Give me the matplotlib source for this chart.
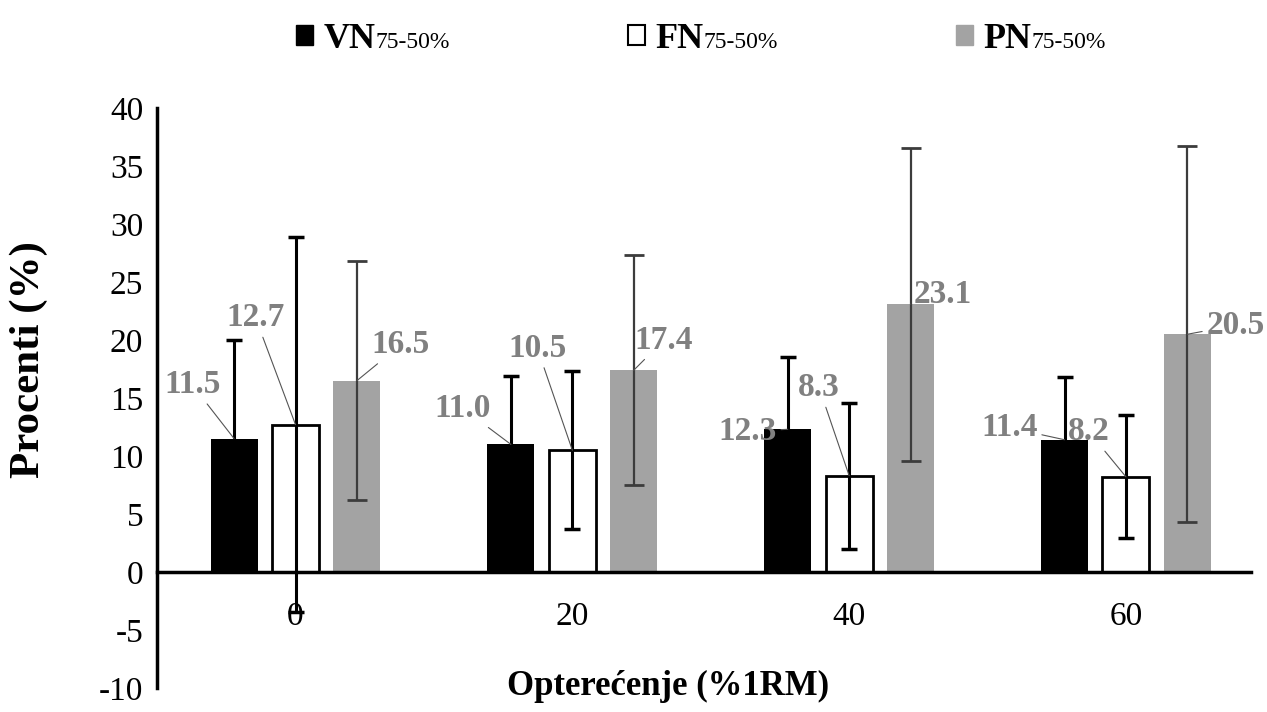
import matplotlib
matplotlib.use('Agg')
import matplotlib.pyplot as plt
from matplotlib.patches import Patch
import numpy as np

plt.rcParams['font.family'] = ['Liberation Serif', 'DejaVu Serif']
plt.rcParams['axes.unicode_minus'] = False

# data
categories = ['0', '20', '40', '60']
series = ['VN', 'FN', 'PN']
suffix = '75-50%'
vn = [11.5, 11.0, 12.3, 11.4]
fn = [12.7, 10.5, 8.3, 8.2]
pn = [16.5, 17.4, 23.1, 20.5]
vn_sd = [8.5, 5.9, 6.2, 5.4]
fn_sd = [16.2, 6.8, 6.3, 5.3]
pn_sd = [10.3, 9.9, 13.5, 16.2]

# label offsets (pixels) from the top of each bar
vn_off = [(-42, 54), (-48, 36), (-40, -2), (-55, 12)]
fn_off = [(-40, 107), (-35, 102), (-30, 88), (-37, 45)]
pn_off = [(44, 36), (30, 30), (32, 10), (48, 9)]

label_grey = '#808080'
bar_grey = '#A3A3A3'

fig = plt.figure(figsize=(12.67, 7.12), dpi=100)
ax = fig.add_axes([0.124, 0.034, 0.863, 0.814])

x = np.arange(len(categories))
width = 0.17
step = 0.222

# bars
ax.bar(x - step, vn, width, color='black', zorder=2)
ax.bar(x, fn, width, color='white', edgecolor='black', linewidth=2, zorder=2)
ax.bar(x + step, pn, width, color=bar_grey, zorder=2)

# error bars
ax.errorbar(x - step, vn, yerr=vn_sd, fmt='none', ecolor='black',
            elinewidth=2.2, capsize=6, capthick=2.5, zorder=3)
ax.errorbar(x, fn, yerr=fn_sd, fmt='none', ecolor='black',
            elinewidth=2.2, capsize=6, capthick=2.5, zorder=3)
ax.errorbar(x + step, pn, yerr=pn_sd, fmt='none', ecolor='#3C3C3C',
            elinewidth=1.6, capsize=7, capthick=2, zorder=3)

# value labels with leader lines
for xs, vals, offs in [(x - step, vn, vn_off), (x, fn, fn_off), (x + step, pn, pn_off)]:
    for xi, v, off in zip(xs, vals, offs):
        ax.annotate(f'{v:.1f}', xy=(xi, v), xytext=off, textcoords='offset pixels',
                    ha='center', va='center', fontsize=24, fontweight='bold',
                    color=label_grey, zorder=4,
                    arrowprops=dict(arrowstyle='-', color='#555555', lw=0.8,
                                    shrinkA=1, shrinkB=0))

# axes styling
ax.set_xlim(-0.5, 3.45)
ax.set_ylim(-10, 40)
ax.set_yticks(range(-10, 41, 5))
ax.set_xticks(x)
ax.set_xticklabels(categories)
ax.tick_params(axis='both', length=0, labelsize=24)
ax.tick_params(axis='x', pad=21)
ax.tick_params(axis='y', pad=10)
for side in ['top', 'right']:
    ax.spines[side].set_visible(False)
ax.spines['left'].set_linewidth(2.5)
ax.spines['bottom'].set_linewidth(2.5)
ax.spines['bottom'].set_position(('data', 0))

ax.set_ylabel('Procenti (%)', fontsize=31, fontweight='bold')
ax.yaxis.set_label_coords(-0.10, 0.566)
ax.set_xlabel('Opterećenje (%1RM)', fontsize=25, fontweight='bold')
ax.xaxis.set_label_coords(0.467, 0.03)

# legend
handles = [Patch(facecolor='black', edgecolor='black'),
           Patch(facecolor='white', edgecolor='black', linewidth=1.5),
           Patch(facecolor=bar_grey, edgecolor=bar_grey)]
leg = fig.legend(handles, series, loc='center', bbox_to_anchor=(0.524, 0.945),
                 ncol=3, frameon=False, handlelength=0.45, handleheight=0.45,
                 handletextpad=0.3, columnspacing=7.0,
                 prop={'family': 'Liberation Serif', 'weight': 'bold', 'size': 26})

fig.canvas.draw()
renderer = fig.canvas.get_renderer()
for t in leg.get_texts():
    bb = t.get_window_extent(renderer)
    bx, by = t.get_transform().transform(t.get_position())
    fx, fy = fig.transFigure.inverted().transform((bb.x1, by))
    fig.text(fx, fy, suffix, fontsize=17, va='baseline', ha='left')

fig.savefig('out.png', dpi=100)
